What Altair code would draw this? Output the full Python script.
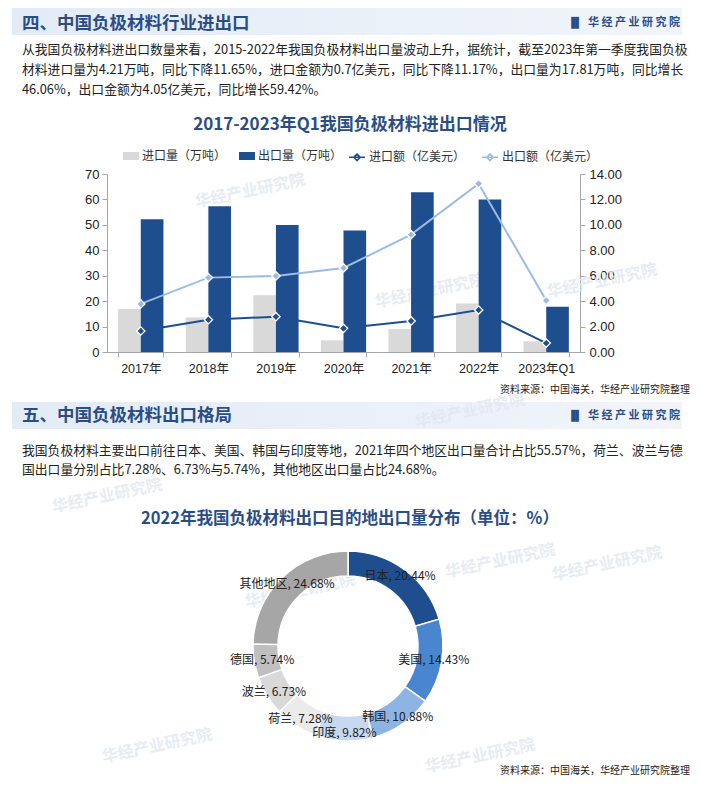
import altair as alt
import pandas as pd

CJK = "Noto Sans CJK SC"
NUM = "Liberation Sans, Noto Sans CJK SC"

# ---------------- data ----------------
years = ["2017年", "2018年", "2019年", "2020年", "2021年", "2022年", "2023年Q1"]
import_volume = [16.9, 13.6, 22.3, 4.6, 9.0, 19.1, 4.21]
export_volume = [52.2, 57.3, 49.9, 47.8, 62.8, 60.0, 17.81]
import_value = [1.65, 2.54, 2.78, 1.86, 2.44, 3.30, 0.70]
export_value = [3.78, 5.85, 5.98, 6.61, 9.23, 13.24, 4.05]
bar_series = ["进口量（万吨）", "出口量（万吨）"]
line_series = ["进口额（亿美元）", "出口额（亿美元）"]
left_ticks = [0, 10, 20, 30, 40, 50, 60, 70]
right_ticks = [0, 2, 4, 6, 8, 10, 12, 14]

regions = ["日本", "美国", "韩国", "印度", "荷兰", "波兰", "德国", "其他地区"]
shares = [20.44, 14.43, 10.88, 9.82, 7.28, 6.73, 5.74, 24.68]

header1 = "四、中国负极材料行业进出口"
header2 = "五、中国负极材料出口格局"
logo = "华 经 产 业 研 究 院"
para1 = [
    "从我国负极材料进出口数量来看，2015-2022年我国负极材料出口量波动上升，据统计，截至2023年第一季度我国负极",
    "材料进口量为4.21万吨，同比下降11.65%，进口金额为0.7亿美元，同比下降11.17%，出口量为17.81万吨，同比增长",
    "46.06%，出口金额为4.05亿美元，同比增长59.42%。",
]
para2 = [
    "我国负极材料主要出口前往日本、美国、韩国与印度等地，2021年四个地区出口量合计占比55.57%，荷兰、波兰与德",
    "国出口量分别占比7.28%、6.73%与5.74%，其他地区出口量占比24.68%。",
]
title1 = "2017-2023年Q1我国负极材料进出口情况"
title2 = "2022年我国负极材料出口目的地出口量分布（单位：%）"
source = "资料来源：中国海关，华经产业研究院整理"
watermark = "华经产业研究院"

# ---------------- styles ----------------
DARK = "#1f4e8f"
LIGHT = "#9cbbe4"
GREY = "#d9d9d9"
HEAD = "#2a4d85"
pie_colors = ["#1f4e8f", "#4a86d0", "#8db4e2", "#c6d9f0", "#ebebeb", "#d9d9d9", "#bfbfbf", "#a6a6a6"]

bars_df = pd.DataFrame({
    "year": years * 2,
    "series": [bar_series[0]] * len(years) + [bar_series[1]] * len(years),
    "value": import_volume + export_volume,
})
lines_df = pd.DataFrame({
    "year": years * 2,
    "series": [line_series[0]] * len(years) + [line_series[1]] * len(years),
    "value": import_value + export_value,
})
pie_df = pd.DataFrame({
    "region": regions,
    "share": shares,
    "order": list(range(len(regions))),
    "label": [f"{r}, {s:.2f}%" for r, s in zip(regions, shares)],
})


def text_layer(s, x, y, size=12.8, weight="normal", color="#222", align="left",
               font=CJK, angle=0, opacity=1.0):
    return alt.Chart(pd.DataFrame({"t": [s]})).mark_text(
        align=align, baseline="middle", fontSize=size, fontWeight=weight,
        color=color, font=font, angle=angle, opacity=opacity,
    ).encode(x=alt.value(x), y=alt.value(y), text="t:N")


def band_layer(y1, y2):
    return alt.Chart(pd.DataFrame({"a": [0]})).mark_rect(
        color=alt.Gradient(gradient="linear", x1=0, x2=1, y1=0, y2=0,
                           stops=[alt.GradientStop(color="#e3ebf6", offset=0),
                                  alt.GradientStop(color="#f1f5fb", offset=1)])
    ).encode(x=alt.value(-95), x2=alt.value(575), y=alt.value(y1), y2=alt.value(y2))


layers = []

# header bands
layers.append(band_layer(-166, -139))
layers.append(band_layer(228, 255))

# faint watermarks (kept inside the page)
for wx, wy in [(143, 17), (323, 117), (495, 107), (363, 237), (0, 322),
               (193, 417), (393, 387), (500, 390), (50, 572), (373, 582)]:
    layers.append(text_layer(watermark, wx, wy, size=16, weight="bold", color="#e2e8f1",
                             align="center", angle=348, opacity=0.8))

# bars
bars = alt.Chart(bars_df).mark_bar().encode(
    x=alt.X("year:N", sort=years,
            scale=alt.Scale(domain=years, paddingInner=0.33, paddingOuter=0.165),
            axis=alt.Axis(title=None, labelAngle=0, tickBand="extent", tickSize=5,
                          domainColor="#a6a6a6", tickColor="#a6a6a6", labelFont=NUM,
                          labelFontSize=12.5, labelColor="#222", labelPadding=5, grid=False)),
    xOffset=alt.XOffset("series:N", sort=bar_series,
                        scale=alt.Scale(domain=bar_series, paddingInner=0, paddingOuter=0)),
    y=alt.Y("value:Q", stack=None, scale=alt.Scale(domain=[0, 70], nice=False),
            axis=alt.Axis(title=None, orient="left", values=left_ticks, grid=False,
                          domainColor="#a6a6a6", tickColor="#a6a6a6", tickSize=5,
                          labelFont=NUM, labelFontSize=13, labelColor="#222", labelPadding=3)),
    color=alt.Color("series:N", sort=bar_series,
                    scale=alt.Scale(domain=bar_series, range=[GREY, DARK]),
                    legend=alt.Legend(title=None, orient="none", legendX=16, legendY=-26,
                                      direction="horizontal", symbolType="M-1,-0.5H1V0.5H-1Z",
                                      symbolSize=256, symbolStrokeWidth=0, labelFont=CJK,
                                      labelFontSize=12, labelColor="#333", columnPadding=12,
                                      labelOffset=3)),
)
layers.append(bars)

# lines
lines = alt.Chart(lines_df).mark_line(strokeWidth=2).encode(
    x=alt.X("year:N", sort=years),
    y=alt.Y("value:Q", scale=alt.Scale(domain=[0, 14], nice=False),
            axis=alt.Axis(title=None, orient="right", values=right_ticks, format=".2f",
                          grid=False, domainColor="#a6a6a6", tickColor="#a6a6a6", tickSize=5,
                          labelFont=NUM, labelFontSize=13, labelColor="#222", labelPadding=4)),
    stroke=alt.Stroke("series:N", sort=line_series,
                      scale=alt.Scale(domain=line_series, range=[DARK, LIGHT]),
                      legend=alt.Legend(title=None, orient="none", legendX=241, legendY=-26,
                                        direction="horizontal",
                                        symbolType="M-1,0H1M0,-0.4L0.4,0L0,0.4L-0.4,0Z",
                                        symbolSize=256, symbolStrokeWidth=1.6, labelFont=CJK,
                                        labelFontSize=12, labelColor="#333", columnPadding=12,
                                        labelOffset=3)),
)
layers.append(lines)

for name, col in zip(line_series, [DARK, LIGHT]):
    pts = alt.Chart(lines_df).transform_filter(alt.datum.series == name).mark_point(
        shape="diamond", filled=True, fill=col, stroke="white", strokeWidth=1.3,
        size=70, opacity=1,
    ).encode(
        x=alt.X("year:N", sort=years),
        y=alt.Y("value:Q", scale=alt.Scale(domain=[0, 14], nice=False), axis=None),
    )
    layers.append(pts)

# donut
CX, CY = 241, 472
donut = alt.Chart(pie_df).mark_arc(outerRadius=95, innerRadius=70, stroke="white",
                                   strokeWidth=1.5).encode(
    theta=alt.Theta("share:Q", stack=True),
    fill=alt.Fill("region:N", sort=regions,
                  scale=alt.Scale(domain=regions, range=pie_colors), legend=None),
    order=alt.Order("order:Q"),
    x=alt.value(CX), y=alt.value(CY),
)
donut_labels = alt.Chart(pie_df).mark_text(radius=87, fontSize=12, font=CJK,
                                           color="#222").encode(
    theta=alt.Theta("share:Q", stack=True),
    order=alt.Order("order:Q"),
    text="label:N",
    x=alt.value(CX), y=alt.value(CY),
)
layers += [donut, donut_labels]

# headers / logos
layers.append(text_layer(header1, -85, -150, size=17.5, weight="bold", color=HEAD))
layers.append(text_layer(header2, -85, 242, size=17.5, weight="bold", color=HEAD))
for ly in (-151, 242):
    layers.append(text_layer("▐▌", 468, ly, size=10, color=HEAD, align="center", font="DejaVu Sans"))
    layers.append(text_layer(logo, 573, ly, size=11, weight="bold", color=HEAD, align="right"))

# paragraphs
for i, line in enumerate(para1):
    layers.append(text_layer(line, -85, -124 + 20 * i))
for i, line in enumerate(para2):
    layers.append(text_layer(line, -85, 277 + 19 * i))

# titles and sources
layers.append(text_layer(title1, 243, -49, size=17, weight="bold", color=HEAD, align="center"))
layers.append(text_layer(title2, 243, 345, size=16.5, weight="bold", color=HEAD, align="center"))
layers.append(text_layer(source, 583, 216, size=10, color="#222", align="right"))
layers.append(text_layer(source, 583, 597, size=10, color="#222", align="right"))

chart = alt.layer(*layers).resolve_scale(y="independent").properties(
    width=473, height=178,
    padding={"left": 4, "top": 0, "right": 0, "bottom": 0},
).configure_view(stroke=None)

chart.save("out.html", embed_options={"renderer": "svg", "actions": False})
